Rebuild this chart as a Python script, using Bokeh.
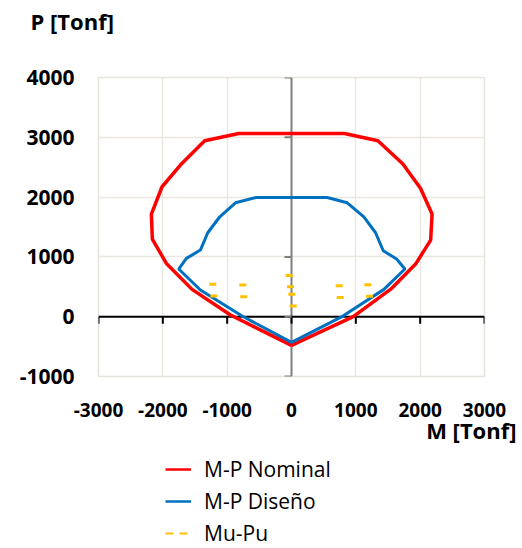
from bokeh.plotting import figure
from bokeh.layouts import column
from bokeh.models import Range1d, FixedTicker, Legend, LegendItem, Span, Title
from bokeh.embed import file_html
from bokeh.resources import INLINE

# M-P Nominal curve
nominal_M = [0, 960, 1543, 1929, 2163, 2185, 2007, 1732, 1343, 825, 0,
             -820, -1349, -1727, -2012, -2178, -2163, -1945, -1546, -949, 0]
nominal_P = [-480, 0, 460, 880, 1281, 1716, 2145, 2552, 2941, 3064, 3064,
             3064, 2941, 2535, 2173, 1716, 1298, 891, 457, 28, -480]

# M-P Diseño curve
design_M = [0, 800, 1437, 1763, 1634, 1426, 1307, 1125, 866, 555, 0,
            -550, -871, -1115, -1302, -1416, -1634, -1753, -1416, -768, 0]
design_P = [-430, 10, 457, 797, 964, 1103, 1404, 1671, 1905, 1994, 1994,
            1994, 1905, 1671, 1404, 1114, 975, 797, 446, 11, -430]

# Mu-Pu demand points
mu = [-1224, -757, -1208, -742, -36, -16, 5, 26, 742, 1187, 757, 1213]
pu = [541, 529, 345, 334, 691, 501, 374, 179, 518, 534, 323, 340]

x_ticks = [-3000, -2000, -1000, 0, 1000, 2000, 3000]
y_ticks = [-1000, 0, 1000, 2000, 3000, 4000]

series_names = ["M-P Nominal", "M-P Diseño", "Mu-Pu"]
RED, BLUE, GOLD = "#FF0000", "#0070C0", "#FFC000"

FONT = "Open Sans"

p = figure(frame_width=386, frame_height=299,
           x_range=Range1d(-3000, 3000), y_range=Range1d(-1000, 4000),
           output_backend="svg", toolbar_location=None,
           min_border_left=98, min_border_right=38,
           min_border_top=77, min_border_bottom=72)
p.outline_line_color = "#E6E4DC"
p.outline_line_width = 1.5

p.xaxis.ticker = FixedTicker(ticks=x_ticks)
p.yaxis.ticker = FixedTicker(ticks=y_ticks)
p.xaxis.major_label_overrides = {t: str(t) for t in x_ticks}
p.yaxis.major_label_overrides = {t: str(t) for t in y_ticks}
for ax in (p.xaxis, p.yaxis):
    ax.axis_line_color = None
    ax.major_tick_line_color = None
    ax.minor_tick_line_color = None
    ax.major_tick_out = 0
    ax.major_tick_in = 0
    ax.minor_tick_out = 0
    ax.major_label_text_font = FONT
    ax.major_label_text_font_style = "bold"
    ax.major_label_text_color = "black"
p.xaxis.major_label_text_font_size = "19px"
p.yaxis.major_label_text_font_size = "21px"
p.xaxis.major_label_standoff = 26
p.yaxis.major_label_standoff = 24

p.xgrid.ticker = FixedTicker(ticks=x_ticks)
p.ygrid.ticker = FixedTicker(ticks=y_ticks)
p.grid.grid_line_color = "#EAE8E1"
p.grid.grid_line_width = 1.5

# axis lines through origin
p.add_layout(Span(location=0, dimension="height", line_color="#808080",
                  line_width=2, level="underlay"))
p.add_layout(Span(location=0, dimension="width", line_color="black",
                  line_width=2, level="underlay"))

# tick marks on the crossing axes
p.segment(x0=x_ticks, y0=[0] * len(x_ticks), x1=x_ticks, y1=[-117] * len(x_ticks),
          line_color="black", line_width=2)
p.segment(x0=[0] * len(y_ticks), y0=y_ticks, x1=[-109] * len(y_ticks), y1=y_ticks,
          line_color="#808080", line_width=2)

p.line(nominal_M, nominal_P, line_color=RED, line_width=3.5)
p.line(design_M, design_P, line_color=BLUE, line_width=3)
p.scatter(mu, pu, marker="dash", size=7, line_color=GOLD, line_width=3)

# y-axis title (top left); trailing blank line lifts it above the frame
p.add_layout(Title(text="P [Tonf]\n ", align="left", offset=-68, standoff=0,
                   text_font=FONT, text_font_style="bold", text_font_size="22px",
                   text_line_height=1.4, text_color="black"), "above")

# x-axis title (right, under tick labels)
p.add_layout(Title(text="M [Tonf]", align="right", offset=-32, standoff=-14,
                   text_font=FONT, text_font_style="bold", text_font_size="22px",
                   text_color="black"), "below")

# legend as a separate strip below the chart (its frame aligns with the chart's)
lg = figure(width=522, height=100, x_range=Range1d(0, 1), y_range=Range1d(0, 1),
            x_axis_type=None, y_axis_type=None, output_backend="svg",
            toolbar_location=None, min_border=0)
lg.outline_line_color = None
lg.grid.visible = False
# legend-key renderers: placed outside the visible range, only their keys show
off = [5, 6]
l_nom = lg.line(x=off, y=off, line_color=RED, line_width=2.5)
l_des = lg.line(x=off, y=off, line_color=BLUE, line_width=2.5)
l_mu = lg.line(x=off, y=off, line_color=GOLD, line_width=2, line_dash="8 6")

legend = Legend(items=[LegendItem(label=series_names[0], renderers=[l_nom]),
                       LegendItem(label=series_names[1], renderers=[l_des]),
                       LegendItem(label=series_names[2], renderers=[l_mu])],
                location=(67, 1), orientation="vertical",
                glyph_width=26, glyph_height=28, label_height=28,
                spacing=4, padding=0, margin=0, label_standoff=13,
                label_text_font=FONT, label_text_font_size="21px",
                label_text_color="black",
                border_line_alpha=0, background_fill_alpha=0)
lg.add_layout(legend)

layout = column(p, lg, spacing=0)
open("out.html", "w").write(file_html(layout, INLINE))
